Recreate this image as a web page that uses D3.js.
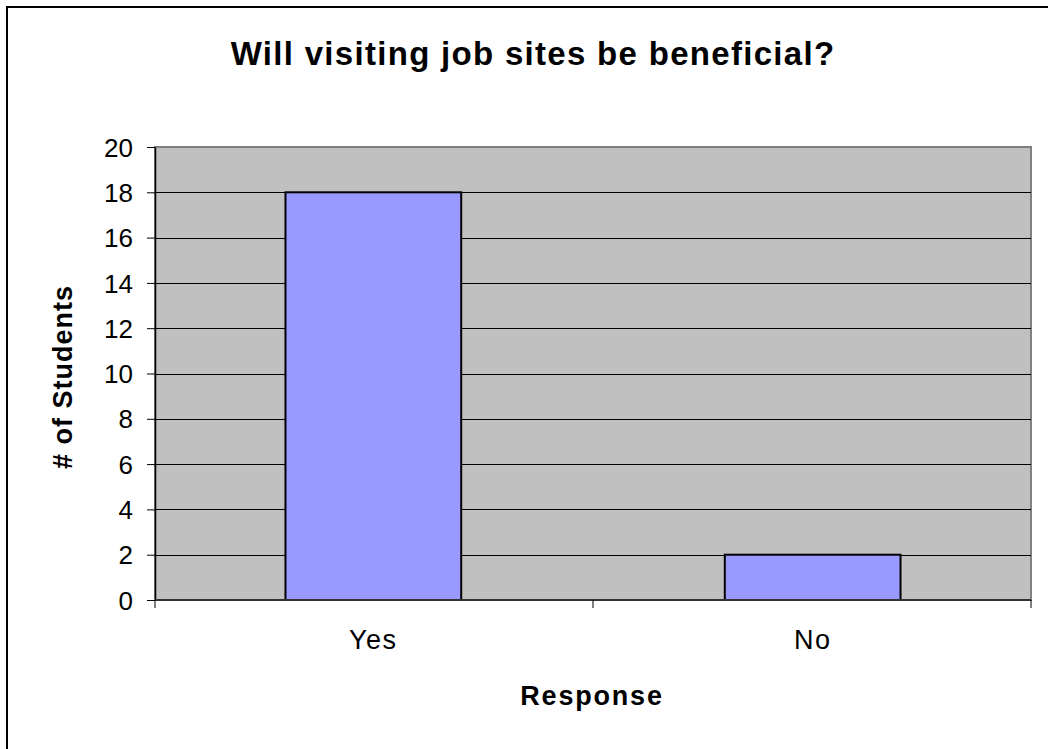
<!DOCTYPE html>
<html>
<head>
<meta charset="utf-8">
<script src="https://cdn.jsdelivr.net/npm/d3@7"></script>
<style>
  html, body { margin: 0; padding: 0; background: #fff; }
  svg { display: block; }
  text { font-family: Arial, "Liberation Sans", sans-serif; fill: #000; }
</style>
</head>
<body>
<svg id="chart" width="1048" height="749"></svg>
<script>
// Survey results
const categories = ["Yes", "No"];
const studentCounts = [18, 2];
const yTicks = [0, 2, 4, 6, 8, 10, 12, 14, 16, 18, 20];

const titleText = "Will visiting job sites be beneficial?";
const xTitle = "Response";
const yTitle = "# of Students";

const svg = d3.select("#chart");
const plot = { left: 155, top: 147, right: 1031, bottom: 600 };

// Chart frame (runs off the right and bottom of the page)
svg.append("rect")
  .attr("x", 7).attr("y", 7)
  .attr("width", 1100).attr("height", 800)
  .attr("fill", "#fff")
  .attr("stroke", "#000").attr("stroke-width", 2);

const x = d3.scaleBand()
  .domain(categories)
  .range([plot.left, plot.right])
  .paddingInner(0.6)
  .paddingOuter(0.297);

const y = d3.scaleLinear()
  .domain([0, 20])
  .range([plot.bottom, plot.top]);

// Plot area
svg.append("rect")
  .attr("x", plot.left).attr("y", plot.top)
  .attr("width", plot.right - plot.left)
  .attr("height", plot.bottom - plot.top)
  .attr("fill", "#C0C0C0")
  .attr("stroke", "#808080").attr("stroke-width", 2);

// Horizontal gridlines
svg.append("g")
  .selectAll("line")
  .data(yTicks.filter(d => d > 0 && d < 20))
  .join("line")
  .attr("x1", plot.left).attr("x2", plot.right)
  .attr("y1", d => Math.round(y(d)) + 0.5)
  .attr("y2", d => Math.round(y(d)) + 0.5)
  .attr("stroke", "#000").attr("stroke-width", 1);

// Bars
svg.append("g")
  .selectAll("rect")
  .data(categories.map((c, i) => ({ c, v: studentCounts[i] })))
  .join("rect")
  .attr("x", d => x(d.c))
  .attr("y", d => y(d.v))
  .attr("width", x.bandwidth())
  .attr("height", d => y(0) - y(d.v))
  .attr("fill", "#9999FF")
  .attr("stroke", "#000").attr("stroke-width", 2);

// Y axis
const yAxis = svg.append("g")
  .attr("transform", `translate(${plot.left},0)`)
  .call(d3.axisLeft(y).tickValues(yTicks).tickSize(8).tickPadding(14).tickSizeOuter(0));
yAxis.select(".domain").attr("stroke", "#000").attr("stroke-width", 1.5);
yAxis.selectAll(".tick line").attr("stroke", "#000");
yAxis.selectAll(".tick text")
  .attr("font-size", 26)
  .attr("font-family", "Arial, 'Liberation Sans', sans-serif")
  .attr("fill", "#000")
  .attr("dy", "0.35em");

// X axis with tick marks on the category boundaries
const xAxisG = svg.append("g");
xAxisG.append("line")
  .attr("x1", plot.left).attr("x2", plot.right)
  .attr("y1", plot.bottom).attr("y2", plot.bottom)
  .attr("stroke", "#333").attr("stroke-width", 2);
const boundaries = [plot.left].concat(categories.map(c => x(c) + x.bandwidth() + x.step() * x.paddingInner() / 2));
boundaries[boundaries.length - 1] = plot.right;
xAxisG.selectAll("line.tick")
  .data(boundaries)
  .join("line")
  .attr("class", "tick")
  .attr("x1", d => d).attr("x2", d => d)
  .attr("y1", plot.bottom).attr("y2", plot.bottom + 8)
  .attr("stroke", "#000").attr("stroke-width", 1);
xAxisG.selectAll("text")
  .data(categories)
  .join("text")
  .attr("x", d => x(d) + x.bandwidth() / 2)
  .attr("y", 649)
  .attr("text-anchor", "middle")
  .attr("font-size", 27)
  .attr("letter-spacing", 1.5)
  .text(d => d);

// Titles
svg.append("text")
  .attr("x", 533).attr("y", 65)
  .attr("text-anchor", "middle")
  .attr("font-size", 33)
  .attr("font-weight", "bold")
  .attr("letter-spacing", 1.3)
  .text(titleText);

svg.append("text")
  .attr("x", 592).attr("y", 705)
  .attr("text-anchor", "middle")
  .attr("font-size", 27)
  .attr("font-weight", "bold")
  .attr("letter-spacing", 1.8)
  .text(xTitle);

svg.append("text")
  .attr("transform", "translate(72,377) rotate(-90)")
  .attr("text-anchor", "middle")
  .attr("font-size", 27)
  .attr("font-weight", "bold")
  .attr("letter-spacing", 1.0)
  .text(yTitle);
</script>
</body>
</html>
